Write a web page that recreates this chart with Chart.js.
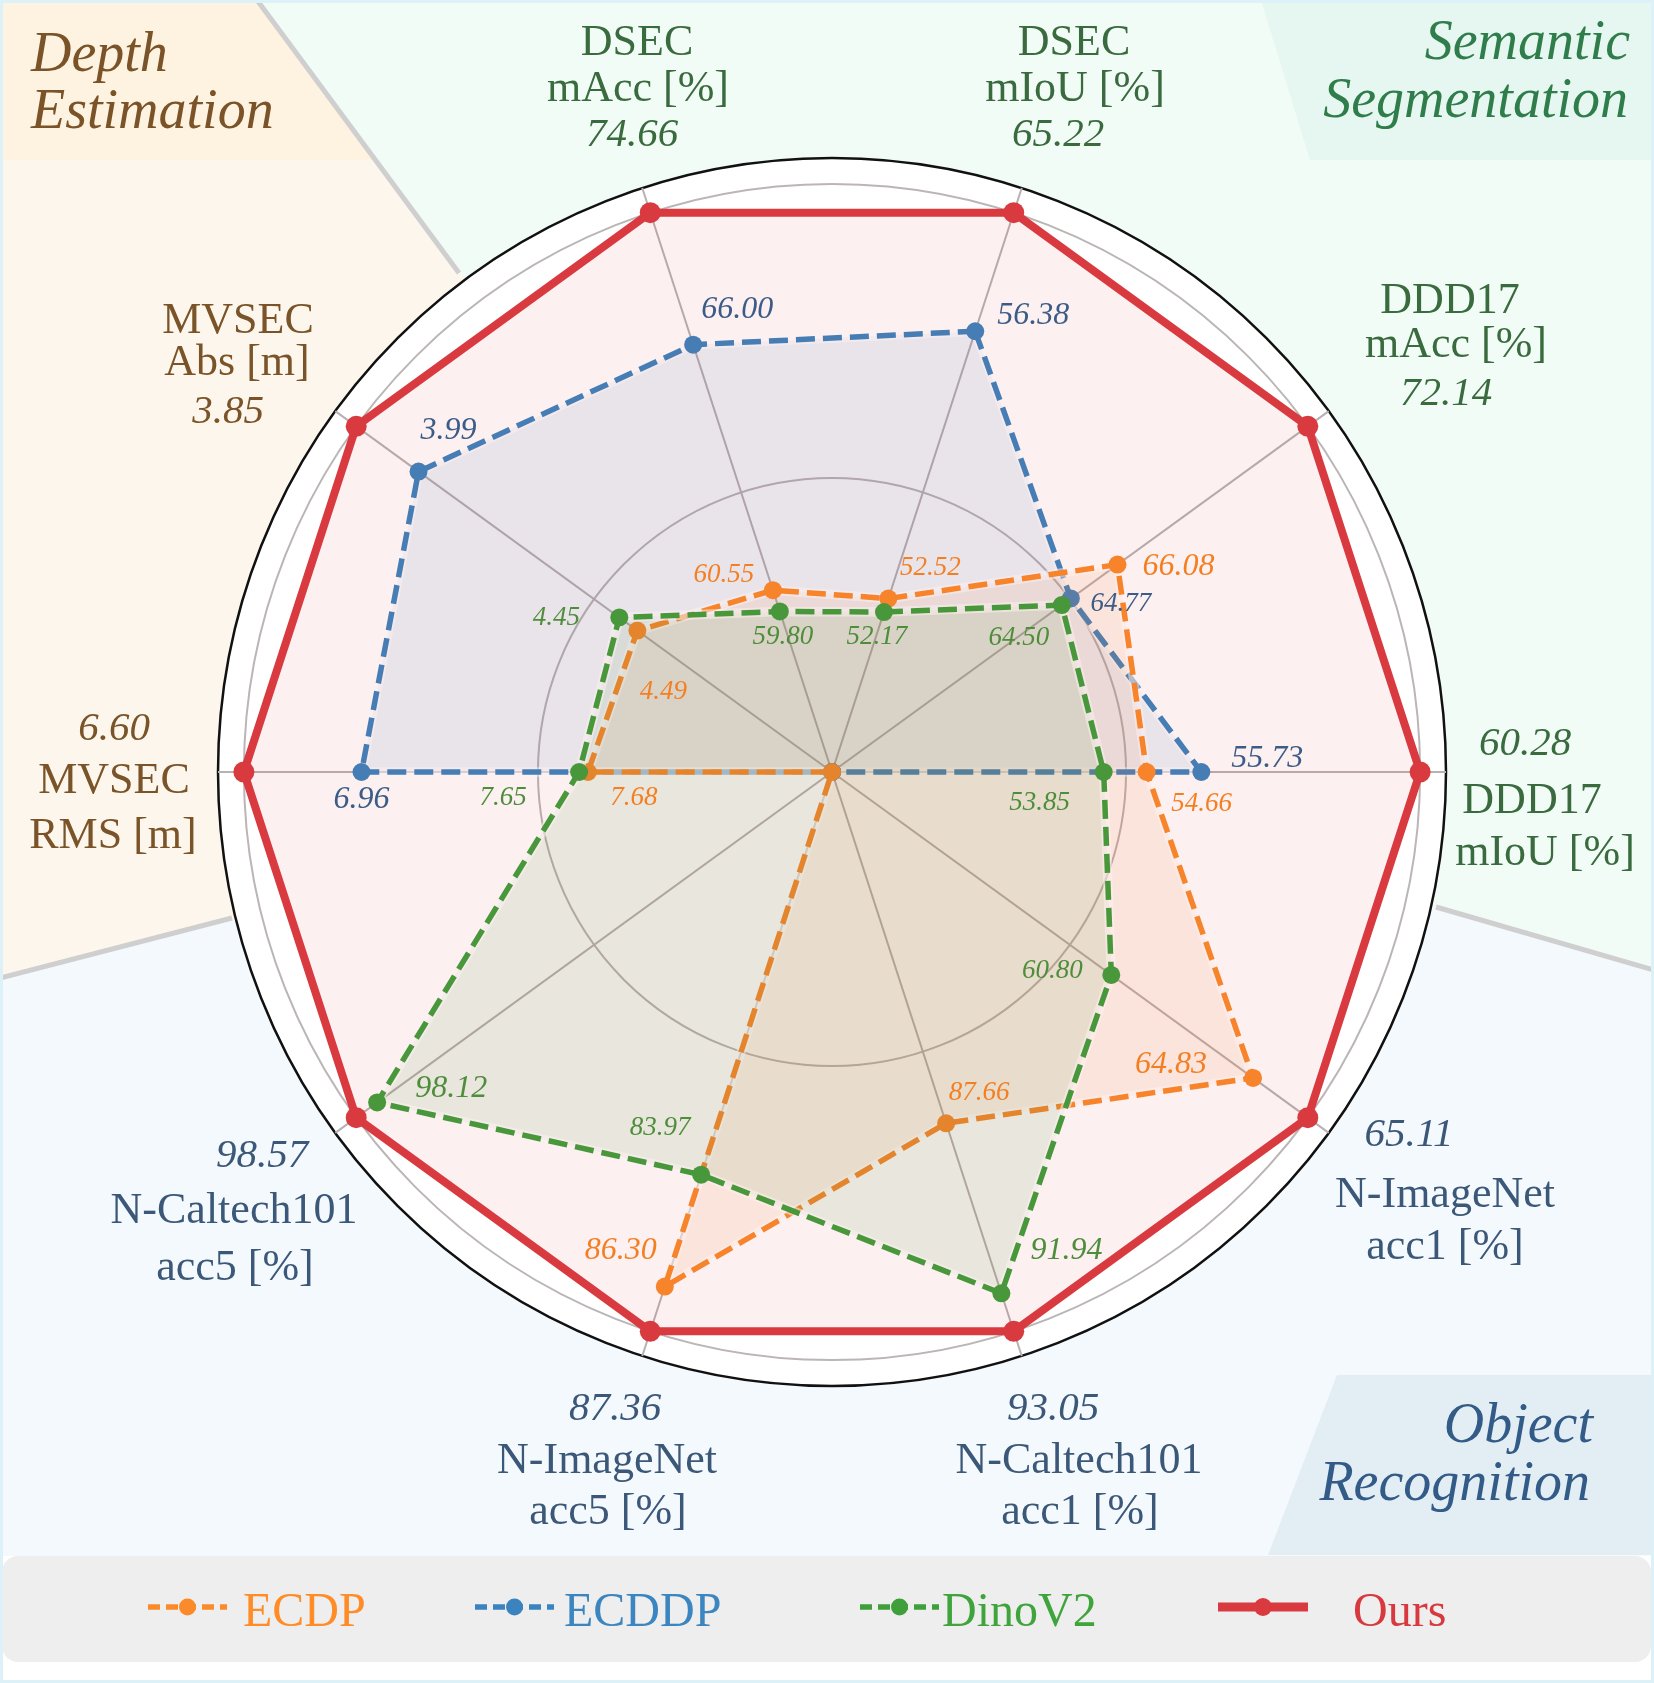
<!DOCTYPE html>
<html>
<head>
<meta charset="utf-8">
<script src="https://cdn.jsdelivr.net/npm/chart.js@4.4.1/dist/chart.umd.min.js"></script>
<style>
html,body{margin:0;padding:0;background:#fff;}
#wrap{width:1654px;height:1683px;position:relative;}
canvas{display:block;}
</style>
</head>
<body>
<div id="wrap"><canvas id="c"></canvas></div>
<script>
// ---------------- DATA ----------------
const datasetNames = ['DSEC','DDD17','DDD17','N-ImageNet','N-Caltech101','N-ImageNet','N-Caltech101','MVSEC','MVSEC','DSEC'];
const metricNames  = ['mIoU [%]','mAcc [%]','mIoU [%]','acc1 [%]','acc1 [%]','acc5 [%]','acc5 [%]','RMS [m]','Abs [m]','mAcc [%]'];
const categories   = datasetNames.map((d, i) => d + ' ' + metricNames[i]);
const categoryGroup = ['seg','seg','seg','obj','obj','obj','obj','depth','depth','seg'];
const lowerIsBetter = [false, false, false, false, false, false, false, true, true, false];

// shown values (null = not reported)
const oursValues  = [65.22, 72.14, 60.28, 65.11, 93.05, 87.36, 98.57, 6.60, 3.85, 74.66];
const ecdpValues  = [52.52, 66.08, 54.66, 64.83, 87.66, 86.30, null, 7.68, 4.49, 60.55];
const ecddpValues = [56.38, 64.77, 55.73, null, null, null, null, 6.96, 3.99, 66.00];
const dinoValues  = [52.17, 64.50, 53.85, 60.80, 91.94, 83.97, 98.12, 7.65, 4.45, 59.80];

// normalized radial positions (Ours = 1)
const oursRadius  = [1, 1, 1, 1, 1, 1, 1, 1, 1, 1];
const ecdpRadius  = [0.31, 0.60, 0.535, 0.885, 0.628, 0.92, 0, 0.415, 0.409, 0.325];
const ecddpRadius = [0.788, 0.502, 0.628, 0, 0, 0, 0, 0.80, 0.869, 0.764];
const dinoRadius  = [0.286, 0.483, 0.462, 0.587, 0.932, 0.72, 0.956, 0.43, 0.447, 0.287];

const gridLevels = [0, 0.5, 1, 1.044];

// ---------------- LAYOUT / STYLE ----------------
const FONT = '"Liberation Serif", "Times New Roman", Times, serif';
const groupTextColor = {seg: '#3A6B3E', obj: '#3C5878', depth: '#7A5428'};
const seriesColor = {ECDP: '#FA8A2A', ECDDP: '#3B83BE', DinoV2: '#3E9F3B', Ours: '#D93A3F'};
const seriesLabelColor = {ECDP: '#F47F22', ECDDP: '#3C5C87', DinoV2: '#4E8D3A'};
const legendTextColor = {ECDP: '#FF8C26', ECDDP: '#3B86C0', DinoV2: '#40A43C', Ours: '#D8393E'};

// [name, metric, value] centre-x / baseline-y for each category label
const catLabelPos = [
  [[1074,55],[1075,101],[1058,146]],
  [[1450,313],[1456,357],[1446,405]],
  [[1532,813],[1545,865],[1525,755]],
  [[1445,1207],[1445,1259],[1409,1146]],
  [[1079,1473],[1080,1524],[1053,1420]],
  [[607,1473],[608,1524],[615,1420]],
  [[234,1223],[235,1280],[262,1167]],
  [[114,793],[113,848],[114,740]],
  [[238,333],[237,375],[228,423]],
  [[637,55],[638,101],[632,146]]
];
// value label offsets from their point
const labelOffsets = {
  ECDP:  [[42,-24],[61,10],[55,39],[-82,-5],[33,-23],[-44,-28],null,[46,33],[26,68],[-49,-8]],
  ECDDP: [[58,-7],[50,13],[66,-5],null,null,null,null,[0,36],[30,-33],[44,-27]],
  DinoV2:[[-7,32],[-43,40],[-64,38],[-59,3],[65,-34],[-41,-40],[74,-5],[-76,33],[-63,8],[3,33]]
};
const seriesValues = {ECDP: ecdpValues, ECDDP: ecddpValues, DinoV2: dinoValues};
const legendLayout = [
  {x0:148, x1:227, tx:243},
  {x0:475, x1:554, tx:564},
  {x0:860, x1:939, tx:942},
  {x0:1218, x1:1308, tx:1353}
];

// best baseline per axis gets a larger label
function isBestBaseline(name, i) {
  let best = null, bestName = null;
  Object.keys(seriesValues).forEach(n => {
    const v = seriesValues[n][i];
    if (v === null) return;
    if (best === null || (lowerIsBetter[i] ? v < best : v > best)) { best = v; bestName = n; }
  });
  return bestName === name;
}

function rgba(hex, a) {
  const n = parseInt(hex.slice(1), 16);
  return `rgba(${(n>>16)&255},${(n>>8)&255},${n&255},${a})`;
}
function text(ctx, s, x, y, size, color, italic, align) {
  ctx.font = (italic ? 'italic ' : '') + size + 'px ' + FONT;
  ctx.fillStyle = color;
  ctx.textAlign = align || 'center';
  ctx.textBaseline = 'alphabetic';
  ctx.fillText(s, x, y);
}
function poly(ctx, pts) {
  ctx.beginPath();
  pts.forEach((p, i) => i ? ctx.lineTo(p[0], p[1]) : ctx.moveTo(p[0], p[1]));
  ctx.closePath();
}

const backgroundPlugin = {
  id: 'bg',
  beforeDraw(chart) {
    const ctx = chart.ctx, r = chart.scales.r;
    const W = chart.width, H = chart.height;
    const cx = r.xCenter, cy = r.yCenter;
    ctx.save();
    ctx.fillStyle = '#FFFFFF';
    ctx.fillRect(0, 0, W, H);
    const depthPoly = [[0,0],[257,0],[cx,cy],[0,978]];
    const segPoly = [[257,0],[W,0],[W,970],[1436,907],[cx,cy]];
    const objPoly = [[0,978],[cx,cy],[1436,907],[W,970],[W,1556],[0,1556]];
    ctx.fillStyle = '#FDF6EC'; poly(ctx, depthPoly); ctx.fill();
    ctx.fillStyle = '#F2FCF7'; poly(ctx, segPoly); ctx.fill();
    ctx.fillStyle = '#F4F9FD'; poly(ctx, objPoly); ctx.fill();
    // title boxes
    ctx.save(); poly(ctx, depthPoly); ctx.clip();
    ctx.fillStyle = '#FEF2E1'; ctx.fillRect(0, 0, 700, 160); ctx.restore();
    ctx.fillStyle = '#E6F6F0'; poly(ctx, [[1261,0],[W,0],[W,160],[1310,160]]); ctx.fill();
    ctx.fillStyle = '#E3EEF4'; poly(ctx, [[1337,1375],[W,1375],[W,1555],[1268,1555]]); ctx.fill();
    // boundary lines
    ctx.strokeStyle = '#CFCFCF'; ctx.lineWidth = 5; ctx.lineCap = 'butt';
    [[[257,0],[459,273]], [[0,978],[232,918]], [[1436,907],[W,970]]].forEach(l => {
      ctx.beginPath(); ctx.moveTo(l[0][0], l[0][1]); ctx.lineTo(l[1][0], l[1][1]); ctx.stroke();
    });
    // white polar area
    ctx.fillStyle = '#FFFFFF';
    ctx.beginPath(); ctx.arc(cx, cy, r.drawingArea, 0, Math.PI * 2); ctx.fill();
    // legend box
    ctx.fillStyle = '#EEEEEE';
    ctx.beginPath(); ctx.roundRect(2, 1556, 1649, 106, 16); ctx.fill();
    // frame
    ctx.strokeStyle = '#DDF1F8'; ctx.lineWidth = 3;
    ctx.strokeRect(1.5, 1.5, W - 3, H - 3);
    ctx.restore();
  },
  beforeDatasetDraw(chart, args) {
    const ds = chart.data.datasets[args.index];
    if (!ds.borderDash || !ds.borderDash.length) return;
    const pts = args.meta.data;
    const ctx = chart.ctx;
    ctx.save();
    ctx.strokeStyle = 'rgba(255,255,255,0.55)';
    ctx.lineWidth = 9.5; ctx.lineJoin = 'round';
    poly(ctx, pts.map(p => [p.x, p.y]));
    ctx.stroke();
    ctx.restore();
  },
  afterDraw(chart) {
    const ctx = chart.ctx;
    ctx.save();
    // category labels
    categories.forEach((c, i) => {
      const col = groupTextColor[categoryGroup[i]];
      const p = catLabelPos[i];
      text(ctx, datasetNames[i], p[0][0], p[0][1], 44, col, false);
      text(ctx, metricNames[i], p[1][0], p[1][1], 44, col, false);
      text(ctx, oursValues[i].toFixed(2), p[2][0], p[2][1], 41, col, true);
    });
    // value labels near points
    chart.data.datasets.forEach((ds, di) => {
      const name = ds.label;
      if (!labelOffsets[name]) return;
      const meta = chart.getDatasetMeta(di);
      seriesValues[name].forEach((v, i) => {
        if (v === null) return;
        const off = labelOffsets[name][i];
        const pt = meta.data[i];
        const size = isBestBaseline(name, i) ? 32 : 27;
        text(ctx, v.toFixed(2), pt.x + off[0], pt.y + off[1], size, seriesLabelColor[name], true);
      });
    });
    // group titles
    text(ctx, 'Depth', 31, 71, 56, '#7A5428', true, 'left');
    text(ctx, 'Estimation', 31, 128, 56, '#7A5428', true, 'left');
    text(ctx, 'Semantic', 1630, 59, 56, '#2F7D4B', true, 'right');
    text(ctx, 'Segmentation', 1628, 117, 56, '#2F7D4B', true, 'right');
    text(ctx, 'Object', 1593, 1442, 56, '#335B88', true, 'right');
    text(ctx, 'Recognition', 1590, 1500, 56, '#335B88', true, 'right');
    // legend
    chart.data.datasets.forEach((ds, di) => {
      const L = legendLayout[di];
      const y = 1607;
      ctx.save();
      ctx.strokeStyle = ds.borderColor;
      ctx.lineWidth = ds.label === 'Ours' ? 9 : 5.5;
      ctx.setLineDash(ds.borderDash && ds.borderDash.length ? [12, 6] : []);
      ctx.beginPath(); ctx.moveTo(L.x0, y); ctx.lineTo(L.x1, y); ctx.stroke();
      ctx.setLineDash([]);
      ctx.fillStyle = ds.borderColor;
      ctx.beginPath(); ctx.arc((L.x0 + L.x1) / 2, y, ds.label === 'Ours' ? 9 : 8.5, 0, Math.PI * 2); ctx.fill();
      ctx.restore();
      text(ctx, ds.label, L.tx, 1626, 48, legendTextColor[ds.label], false, 'left');
    });
    ctx.restore();
  }
};

function makeDataset(name, radii, order) {
  const col = seriesColor[name];
  const isOurs = name === 'Ours';
  return {
    label: name,
    data: radii,
    order: order,
    borderColor: col,
    backgroundColor: isOurs ? rgba(col, 0.075) : rgba(col, 0.10),
    borderWidth: isOurs ? 8 : 5.5,
    borderDash: isOurs ? [] : [19, 8],
    pointRadius: isOurs ? 10.5 : 9,
    pointBackgroundColor: col,
    pointBorderWidth: 0,
    pointHoverRadius: 0,
    fill: true,
    tension: 0
  };
}

new Chart(document.getElementById('c'), {
  type: 'radar',
  data: {
    labels: categories,
    datasets: [
      makeDataset('ECDP', ecdpRadius, 2),
      makeDataset('ECDDP', ecddpRadius, 3),
      makeDataset('DinoV2', dinoRadius, 1),
      makeDataset('Ours', oursRadius, 0)
    ]
  },
  options: {
    responsive: true,
    maintainAspectRatio: false,
    animation: false,
    layout: {padding: {left: 218, top: 158, right: 208, bottom: 297}},
    plugins: {legend: {display: false}, tooltip: {enabled: false}},
    scales: {
      r: {
        min: 0,
        max: gridLevels[gridLevels.length - 1],
        startAngle: 18,
        ticks: {display: false},
        pointLabels: {display: false},
        afterBuildTicks: s => { s.ticks = gridLevels.map(v => ({value: v})); },
        grid: {
          circular: true,
          color: c => c.index === gridLevels.length - 1 ? '#111111' : '#BBB5B5',
          lineWidth: c => c.index === gridLevels.length - 1 ? 2.5 : 2
        },
        angleLines: {color: '#B8B1B1', lineWidth: 2}
      }
    }
  },
  plugins: [backgroundPlugin]
});
</script>
</body>
</html>
